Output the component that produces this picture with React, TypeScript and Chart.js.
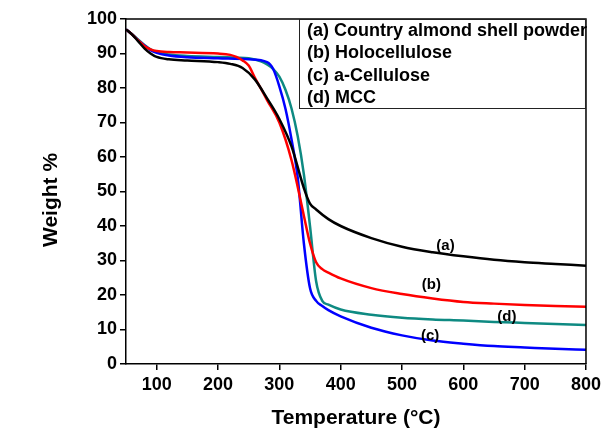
import React, { useEffect, useRef } from "react";
import { Chart, registerables } from "chart.js";

Chart.register(...registerables);

const tempA = [50, 60, 70, 80, 90, 100, 120, 150, 200, 220, 240, 260, 280, 300, 320, 340, 350, 360, 380, 400, 450, 500, 550, 600, 650, 700, 750, 800];
const weightA = [97, 95.5, 93.5, 91.5, 90, 89, 88.3, 88, 87.5, 87, 85.8, 82.5, 77, 71, 63, 51, 46.5, 44.8, 42, 40, 36.5, 34, 32.4, 31.2, 30.2, 29.5, 29, 28.5];

const tempB = [50, 60, 70, 80, 90, 100, 120, 150, 200, 220, 230, 240, 250, 260, 270, 280, 300, 320, 340, 350, 360, 370, 380, 400, 450, 500, 550, 600, 650, 700, 750, 800];
const weightB = [97, 95.5, 93.8, 92.2, 91.2, 90.7, 90.4, 90.3, 90, 89.6, 89, 88, 86.5, 83, 79.8, 76.5, 70, 59, 43, 35, 29.5, 27.5, 26.5, 24.8, 22, 20.3, 19, 18, 17.5, 17.1, 16.8, 16.6];

const tempC = [50, 60, 70, 80, 90, 100, 120, 150, 200, 250, 280, 290, 300, 310, 320, 330, 340, 350, 360, 370, 380, 400, 450, 500, 550, 600, 650, 700, 750, 800];
const weightC = [97, 95.5, 93.8, 92.3, 91, 90.2, 89.4, 88.9, 88.6, 88.3, 87.5, 85.5, 80.5, 74, 65, 54, 35, 22, 18.3, 16.8, 15.6, 13.8, 10.5, 8.3, 6.8, 5.9, 5.2, 4.8, 4.4, 4.1];

const tempD = [50, 60, 70, 80, 90, 100, 120, 150, 200, 250, 270, 280, 290, 300, 310, 320, 330, 340, 350, 360, 370, 380, 400, 450, 500, 550, 600, 650, 700, 750, 800];
const weightD = [97, 95.6, 94, 92.5, 91.2, 90.4, 89.7, 89.3, 89, 88.6, 87.7, 86.8, 85.5, 83.3, 79.5, 74, 66, 55, 40, 24, 18.3, 17.2, 15.8, 14.3, 13.4, 12.9, 12.6, 12.2, 11.9, 11.6, 11.3];

const seriesNames = ["(a) Country almond shell powder", "(b) Holocellulose", "(c) a-Cellulose", "(d) MCC"];
const curveTags = ["(a)", "(b)", "(c)", "(d)"];
const curveTagPos = [[571, 34.3], [548, 22.9], [546, 8.2], [671, 13.7]];
const seriesColors = ["#000000", "#ff0000", "#0000ff", "#0e8a82"];

const xTicks = [100, 200, 300, 400, 500, 600, 700, 800];
const yTicks = [0, 10, 20, 30, 40, 50, 60, 70, 80, 90, 100];

const FONT = "Arial, 'Liberation Sans', sans-serif";

const pairs = (xs: number[], ys: number[]) => xs.map((x, i) => ({ x, y: ys[i] }));

export default function App() {
  const ref = useRef<HTMLCanvasElement | null>(null);

  useEffect(() => {
    document.body.style.margin = "0";
    const canvas = ref.current;
    if (!canvas) return;

    const overlay = {
      id: "overlay",
      afterDraw(chart: any) {
        const { ctx, chartArea } = chart;
        const { left, right, top, bottom } = chartArea;
        const xs = chart.scales.x;
        const ys = chart.scales.y;
        ctx.save();
        ctx.strokeStyle = "#000";
        ctx.lineWidth = 1.5;
        ctx.beginPath();
        ctx.moveTo(left, top);
        ctx.lineTo(right, top);
        ctx.lineTo(right, bottom);
        ctx.stroke();

        const lx = 299, ly = top, lw = right - 299, lh = 108 - top;
        ctx.fillStyle = "#fff";
        ctx.fillRect(lx, ly, lw, lh);
        ctx.lineWidth = 1;
        ctx.strokeStyle = "#222";
        ctx.strokeRect(lx + 0.5, ly + 0.5, lw - 1, lh);
        ctx.fillStyle = "#000";
        ctx.font = `bold 18px ${FONT}`;
        ctx.textAlign = "left";
        ctx.textBaseline = "middle";
        const rows = [31, 53.5, 76, 98.5];
        seriesNames.forEach((n, i) => ctx.fillText(n, 307, rows[i]));

        ctx.font = `bold 15px ${FONT}`;
        ctx.textAlign = "center";
        curveTags.forEach((t, i) => {
          const [tx, ty] = curveTagPos[i];
          ctx.fillText(t, xs.getPixelForValue(tx), ys.getPixelForValue(ty));
        });

        ctx.font = `bold 21px ${FONT}`;
        ctx.textAlign = "center";
        ctx.textBaseline = "middle";
        ctx.fillText("Temperature (°C)", (left + right) / 2, 418);
        ctx.translate(51, 200);
        ctx.rotate(-Math.PI / 2);
        ctx.fillText("Weight %", 0, 0);
        ctx.restore();
      },
    };

    const chart = new Chart(canvas, {
      type: "line",
      data: {
        datasets: [
          pairs(tempA, weightA),
          pairs(tempB, weightB),
          pairs(tempC, weightC),
          pairs(tempD, weightD),
        ].map((d, i) => ({
          label: seriesNames[i],
          data: d,
          borderColor: seriesColors[i],
          backgroundColor: seriesColors[i],
          borderWidth: 2.5,
          pointRadius: 0,
          fill: false,
          cubicInterpolationMode: "monotone" as const,
        })),
      },
      options: {
        responsive: false,
        animation: false,
        layout: { padding: { top: 19, right: 16, left: 0, bottom: 0 } },
        plugins: { legend: { display: false }, tooltip: { enabled: false } },
        scales: {
          x: {
            type: "linear",
            min: 50,
            max: 800,
            afterBuildTicks: (s: any) => {
              s.ticks = xTicks.map((v) => ({ value: v }));
            },
            afterFit: (s: any) => {
              s.height = 69;
            },
            ticks: {
              color: "#000",
              font: { family: FONT, size: 18, weight: "bold" },
              padding: 4,
              maxRotation: 0,
              autoSkip: false,
            },
            grid: { drawOnChartArea: false, drawTicks: true, tickLength: 6, color: "#000", lineWidth: 1.5 },
            border: { display: true, color: "#000", width: 1.5 },
          },
          y: {
            type: "linear",
            min: 0,
            max: 100,
            afterBuildTicks: (s: any) => {
              s.ticks = yTicks.map((v) => ({ value: v }));
            },
            afterFit: (s: any) => {
              s.width = 126;
            },
            ticks: {
              color: "#000",
              font: { family: FONT, size: 18, weight: "bold" },
              padding: 3,
              autoSkip: false,
            },
            grid: { drawOnChartArea: false, drawTicks: true, tickLength: 6, color: "#000", lineWidth: 1.5 },
            border: { display: true, color: "#000", width: 1.5 },
          },
        },
      },
      plugins: [overlay],
    });

    return () => chart.destroy();
  }, []);

  return (
    <div style={{ position: "absolute", left: 0, top: 0, width: 605, height: 433, background: "#fff" }}>
      <canvas ref={ref} width={605} height={433} style={{ width: 605, height: 433, display: "block" }} />
    </div>
  );
}
